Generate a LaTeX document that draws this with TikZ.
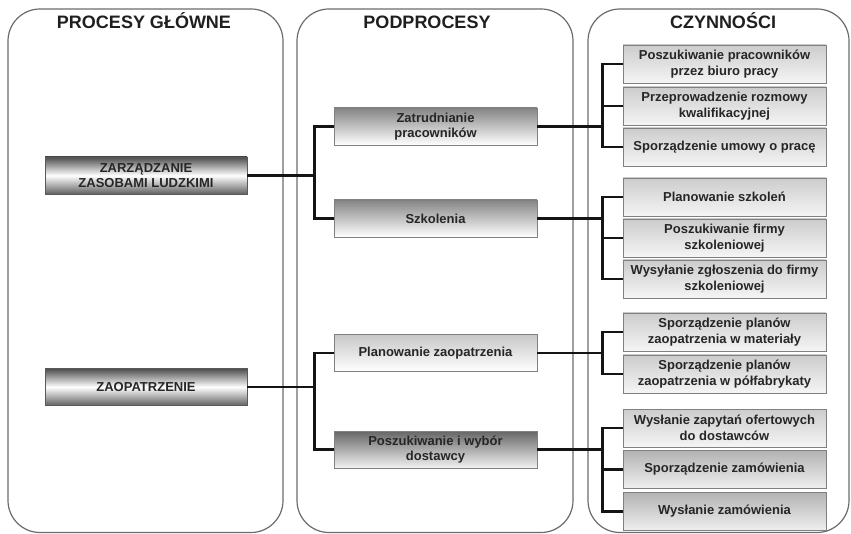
\documentclass[tikz,border=0pt]{standalone}
\usepackage{fontspec}
\setmainfont{Liberation Sans}
\begin{document}
\begin{tikzpicture}[x=1pt,y=-1pt,
  colframe/.style={draw=black!58, line width=1.2pt, rounded corners=32pt},
  coltitle/.style={font=\bfseries\fontsize{18}{20}\selectfont, text=black!88, inner sep=0pt, anchor=base},
  basebox/.style={draw=black!50, line width=0.8pt, minimum width=203pt, inner sep=1pt,
    align=center, text=black!85, font=\bfseries\fontsize{13}{15.5}\selectfont},
  mainbox/.style={basebox, minimum width=202pt, minimum height=37pt, draw=black!65,
    top color=black!70, bottom color=black!62, middle color=white},
  subbox/.style={basebox, minimum height=37pt, top color=black!48, bottom color=white},
  subboxlight/.style={basebox, minimum height=37pt, top color=black!22, bottom color=white},
  subboxdark/.style={basebox, minimum height=37pt, top color=black!60, bottom color=white!95!black},
  actbox/.style={basebox, minimum height=38pt, top color=black!20, bottom color=black!4},
  actboxdark/.style={basebox, minimum height=38pt, top color=black!30, bottom color=black!6},
  conn/.style={line width=2.6pt, black!92}]
\useasboundingbox (0,0) rectangle (851,534);

% column frames
\draw[colframe] (8,9) rectangle (283,532.5);
\draw[colframe] (297,9) rectangle (573,532.5);
\draw[colframe] (588,9) rectangle (849,532.5);

% titles
\node[coltitle] (t1) at (144,28.5) {PROCESY GŁÓWNE};
\node[coltitle] (t2) at (427,28.5) {PODPROCESY};
\node[coltitle] (t3) at (723,28.5) {CZYNNOŚCI};

% main processes
\node[mainbox] (zzl) at (146,175.5) {ZARZĄDZANIE\\ZASOBAMI LUDZKIMI};
\node[mainbox] (zao) at (146,387) {ZAOPATRZENIE};

% subprocesses
\node[subbox] (zat) at (435.5,126.5) {Zatrudnianie\\pracowników};
\node[subbox] (szk) at (435.5,218.5) {Szkolenia};
\node[subboxlight] (plz) at (435.5,353) {Planowanie zaopatrzenia};
\node[subboxdark] (pos) at (435.5,449.5) {Poszukiwanie i wybór\\dostawcy};

% activities
\node[actbox] (a1) at (724.5,64) {Poszukiwanie pracowników\\przez biuro pracy};
\node[actbox] (a2) at (724.5,106) {Przeprowadzenie rozmowy\\kwalifikacyjnej};
\node[actbox] (a3) at (724.5,147) {Sporządzenie umowy o pracę};
\node[actbox] (a4) at (724.5,197) {Planowanie szkoleń};
\node[actbox] (a5) at (724.5,238) {Poszukiwanie firmy\\szkoleniowej};
\node[actbox] (a6) at (724.5,279) {Wysyłanie zgłoszenia do firmy\\szkoleniowej};
\node[actbox] (a7) at (724.5,332) {Sporządzenie planów\\zaopatrzenia w materiały};
\node[actbox] (a8) at (724.5,374) {Sporządzenie planów\\zaopatrzenia w półfabrykaty};
\node[actbox] (a9) at (724.5,428) {Wysłanie zapytań ofertowych\\do dostawców};
\node[actboxdark] (a10) at (724.5,469.5) {Sporządzenie zamówienia};
\node[actboxdark] (a11) at (724.5,511.5) {Wysłanie zamówienia};

% connectors: main -> sub
\draw[conn] (zat.west) -- ++(-19,0) |- (zzl.east);
\draw[conn] (szk.west) -- ++(-19,0) |- (zzl.east);
\draw[conn] (plz.west) -- ++(-19,0) |- (zao.east);
\draw[conn] (pos.west) -- ++(-19,0) |- (zao.east);

% connectors: sub -> activities
\foreach \a in {a1,a2,a3} \draw[conn] (\a.west) -- ++(-20,0) |- (zat.east);
\foreach \a in {a4,a5,a6} \draw[conn] (\a.west) -- ++(-20,0) |- (szk.east);
\foreach \a in {a7,a8} \draw[conn] (\a.west) -- ++(-20,0) |- (plz.east);
\foreach \a in {a9,a10,a11} \draw[conn] (\a.west) -- ++(-20,0) |- (pos.east);
\end{tikzpicture}
\end{document}
